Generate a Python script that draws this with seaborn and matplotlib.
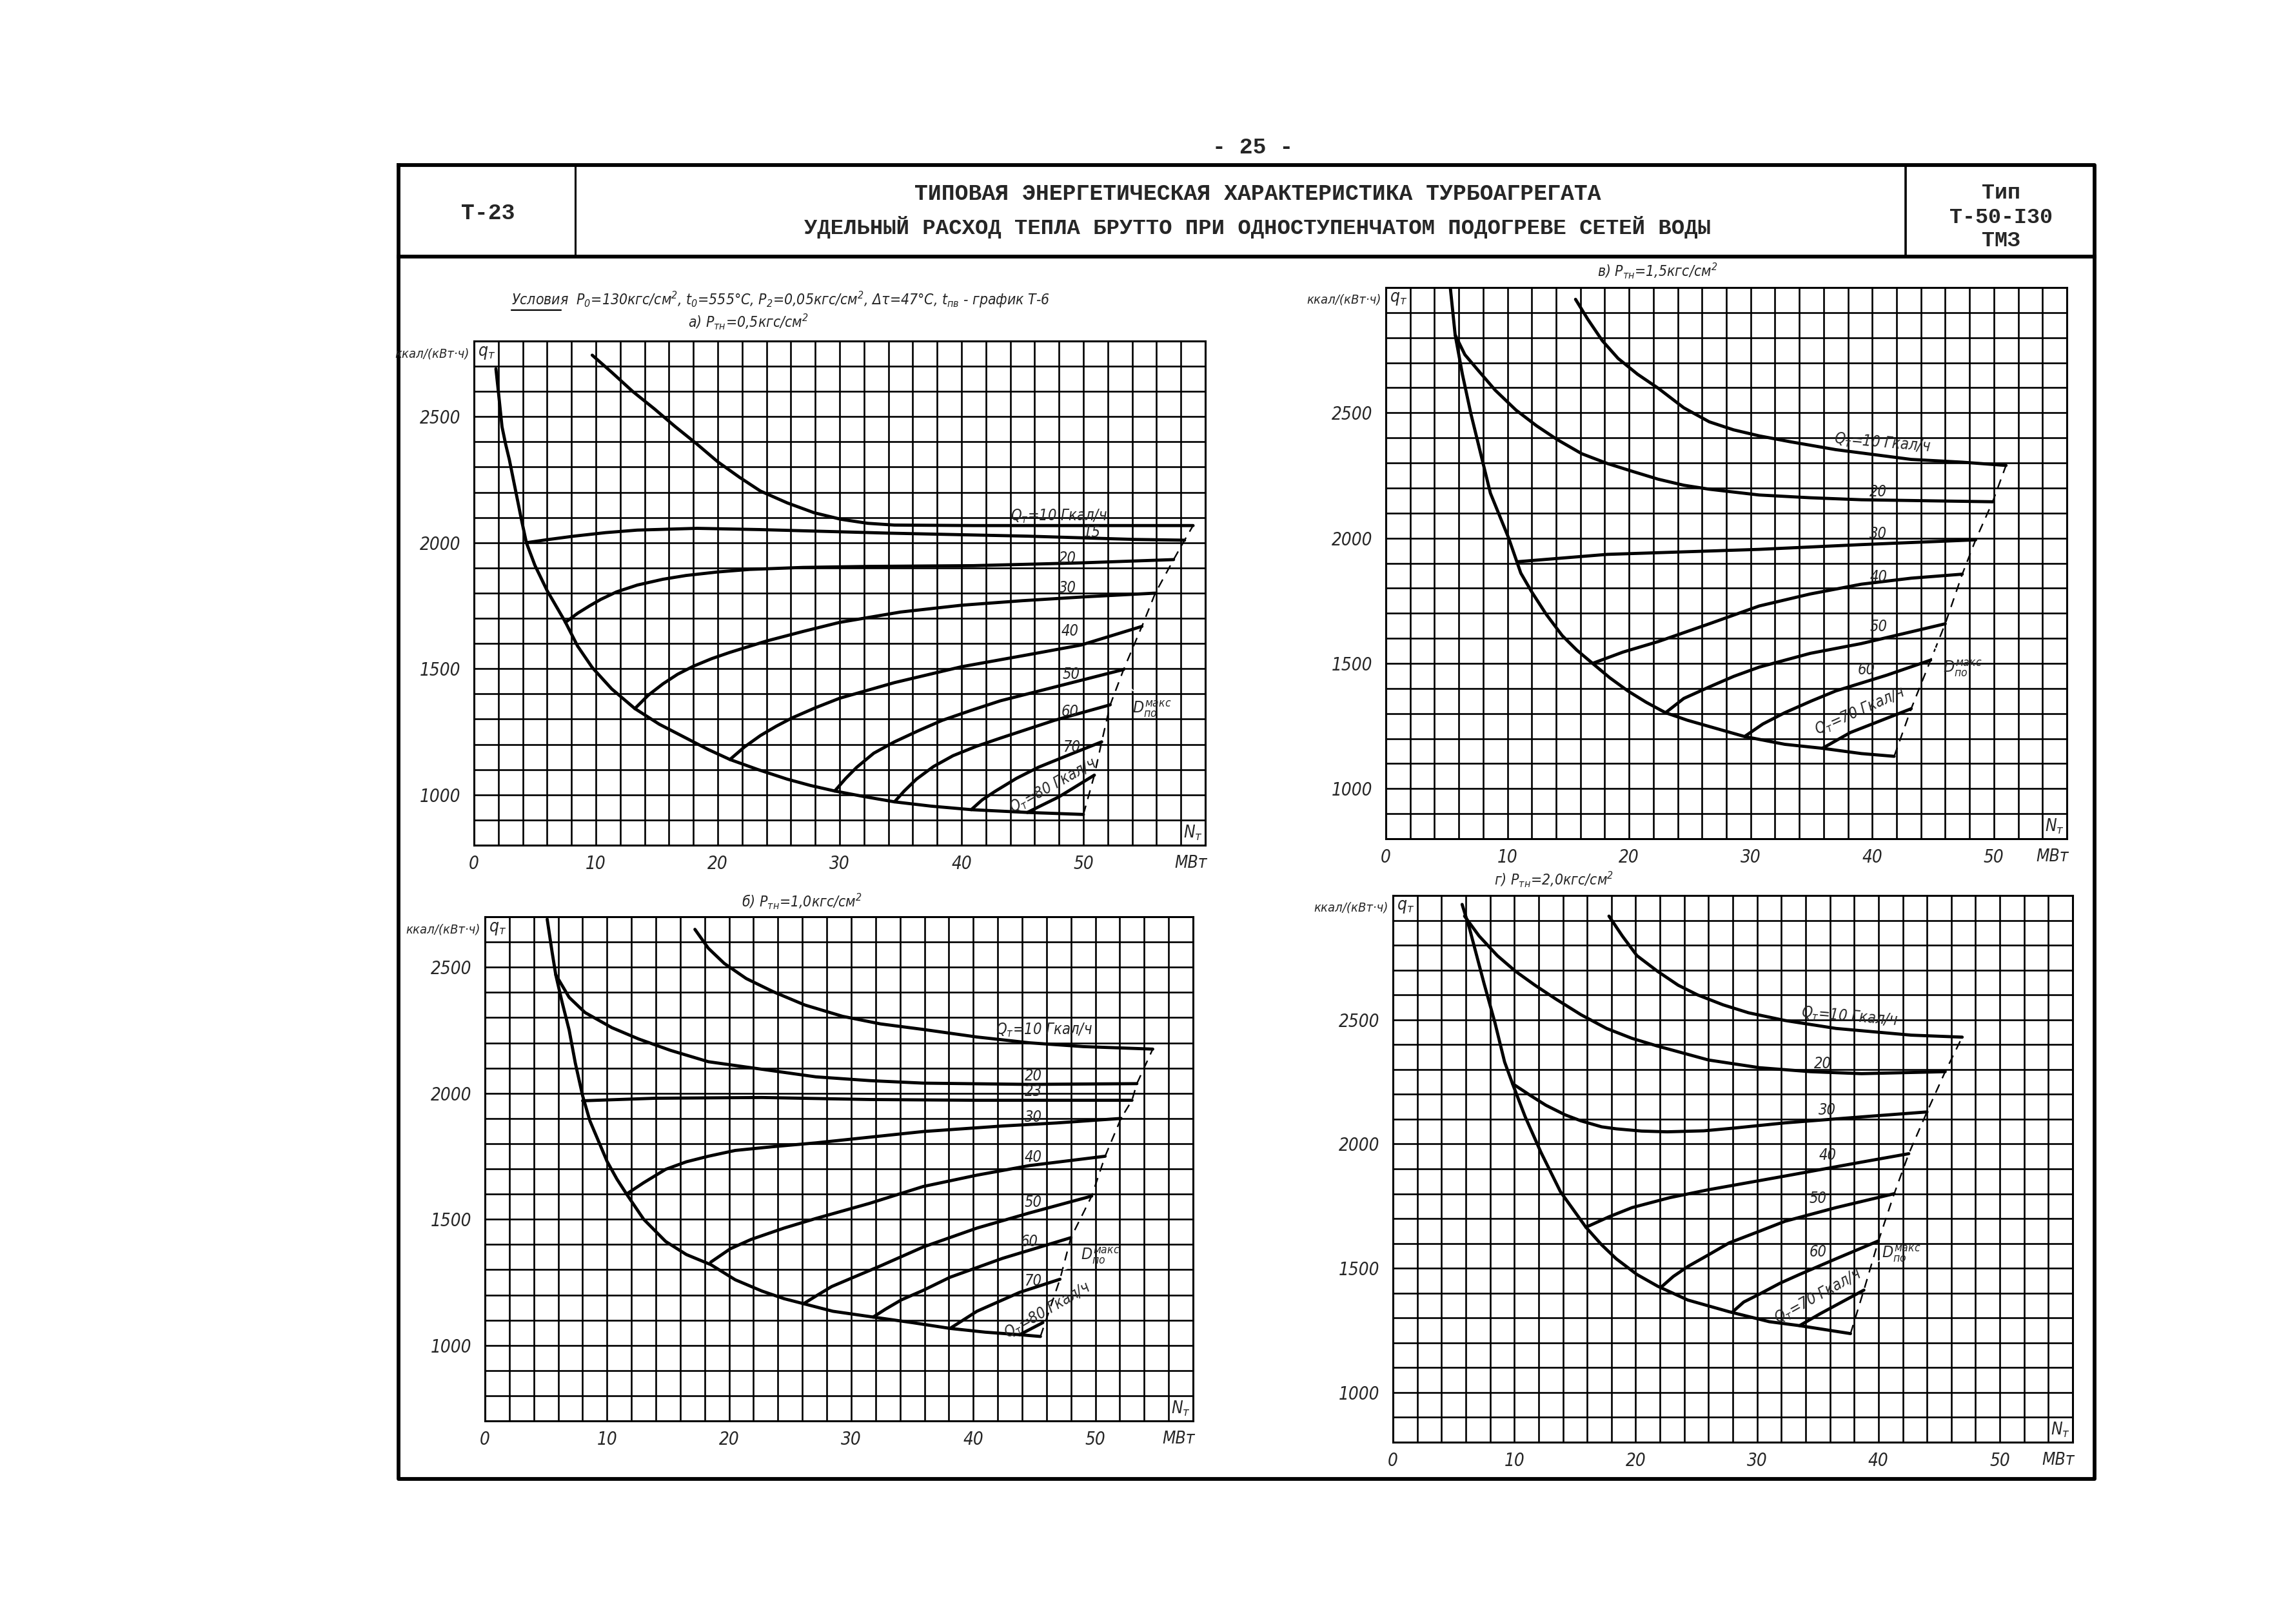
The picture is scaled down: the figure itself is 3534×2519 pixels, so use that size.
import numpy as np
import matplotlib
matplotlib.use("Agg")
import matplotlib.pyplot as plt
import seaborn as sns

# ---------------- data (N_T in MW, q_T in kcal/kWh) ----------------
# a) P_тн = 0,5 кгс/см2
a_env_n = [1.8, 2.0, 2.3, 2.6, 2.9, 3.4, 3.9, 4.3, 5.0, 6.0, 7.5, 8.5, 9.7, 11.3, 13.2, 15.2, 17.4,
           19.2, 21.0, 23.3, 25.7, 27.6, 29.6, 32.0, 34.5, 37.5, 40.8, 45.4, 50.0]
a_env_q = [2690, 2600, 2460, 2390, 2330, 2210, 2090, 2000, 1910, 1810, 1685, 1590, 1505, 1420, 1342,
           1280, 1225, 1180, 1140, 1100, 1062, 1037, 1015, 993, 972, 955, 941, 930, 922]
a_q10_n = [9.7, 11.3, 13.0, 14.8, 16.5, 18.3, 20.0, 21.8, 23.5, 25.7, 27.9, 30.1, 32.3, 34.5, 41.0, 49.8, 59.0]
a_q10_q = [2744, 2676, 2601, 2531, 2461, 2391, 2321, 2259, 2205, 2158, 2119, 2093, 2077, 2070, 2068, 2068, 2068]
a_q15_n = [4.3, 6.0, 8.2, 10.8, 13.4, 18.3, 23.5, 34.0, 45.4, 54.2, 58.3]
a_q15_q = [2000, 2012, 2026, 2040, 2050, 2057, 2052, 2038, 2026, 2013, 2010]
a_q20_n = [7.5, 8.5, 9.5, 10.4, 11.7, 13.4, 15.5, 17.4, 20.0, 22.6, 27.0, 32.3, 41.0, 49.8, 57.4]
a_q20_q = [1684, 1720, 1750, 1775, 1805, 1832, 1855, 1870, 1884, 1894, 1902, 1906, 1909, 1920, 1933]
a_q30_n = [13.2, 14.3, 15.5, 16.7, 18.0, 19.5, 21.0, 24.0, 27.0, 30.0, 35.0, 40.0, 45.0, 50.0, 55.9]
a_q30_q = [1342, 1395, 1440, 1478, 1510, 1540, 1565, 1610, 1648, 1684, 1725, 1752, 1770, 1785, 1800]
a_q40_n = [21.0, 22.2, 23.5, 24.8, 26.1, 28.0, 30.0, 34.5, 40.0, 45.4, 49.8, 54.8]
a_q40_q = [1140, 1190, 1235, 1272, 1305, 1345, 1383, 1445, 1508, 1555, 1594, 1668]
a_q50_n = [29.6, 30.5, 31.4, 32.8, 34.5, 36.5, 38.4, 40.8, 43.2, 47.6, 53.3]
a_q50_q = [1015, 1065, 1109, 1165, 1210, 1255, 1295, 1335, 1373, 1427, 1497]
a_q60_n = [34.5, 35.3, 36.3, 37.7, 39.3, 41.2, 43.2, 47.6, 52.2]
a_q60_q = [972, 1015, 1062, 1112, 1155, 1192, 1225, 1295, 1357]
a_q70_n = [40.8, 41.7, 42.8, 44.5, 46.3, 48.9, 51.5]
a_q70_q = [941, 980, 1015, 1065, 1109, 1160, 1210]
a_q80_n = [45.4, 48.0, 50.9]
a_q80_q = [930, 992, 1078]
a_dmax_n = [50.0, 50.9, 51.5, 52.2, 53.3, 54.8, 55.9, 57.4, 58.3, 59.0]
a_dmax_q = [922, 1078, 1210, 1357, 1497, 1668, 1800, 1933, 2010, 2068]

# б) P_тн = 1,0 кгс/см2
b_env_n = [5.1, 5.5, 5.8, 6.3, 6.9, 7.4, 8.0, 8.6, 9.3, 10.0, 10.8, 11.6, 13.0, 14.8, 16.5, 18.5,
           20.5, 22.7, 24.5, 26.1, 28.5, 31.8, 35.0, 38.1, 41.0, 43.8, 45.5]
b_env_q = [2690, 2560, 2470, 2365, 2250, 2120, 1990, 1890, 1810, 1730, 1660, 1600, 1500, 1412, 1360,
           1320, 1260, 1215, 1185, 1165, 1135, 1112, 1090, 1067, 1052, 1042, 1035]
b_q10_n = [17.2, 18.3, 19.6, 21.4, 23.6, 26.2, 29.3, 32.4, 35.9, 40.3, 44.6, 49.0, 54.7]
b_q10_q = [2650, 2575, 2515, 2455, 2403, 2350, 2305, 2275, 2253, 2223, 2200, 2185, 2175]
b_q20_n = [5.8, 6.9, 8.2, 10.4, 12.6, 15.2, 18.3, 22.7, 27.1, 31.5, 35.9, 44.6, 53.4]
b_q20_q = [2470, 2380, 2320, 2260, 2215, 2170, 2125, 2095, 2065, 2050, 2040, 2035, 2038]
b_q23_n = [8.0, 13.9, 22.7, 31.5, 40.3, 53.0]
b_q23_q = [1970, 1980, 1983, 1975, 1972, 1972]
b_q30_n = [11.6, 13.0, 14.8, 16.5, 18.3, 20.5, 23.6, 27.1, 35.9, 42.4, 46.8, 52.1]
b_q30_q = [1600, 1645, 1698, 1728, 1750, 1773, 1788, 1803, 1848, 1870, 1882, 1900]
b_q40_n = [18.5, 20.1, 21.8, 24.5, 27.1, 31.5, 35.9, 40.3, 44.6, 50.8]
b_q40_q = [1330, 1383, 1420, 1465, 1503, 1563, 1630, 1675, 1713, 1750]
b_q50_n = [26.1, 27.1, 28.4, 30.2, 32.4, 35.9, 40.3, 44.6, 49.7]
b_q50_q = [1165, 1195, 1233, 1270, 1315, 1390, 1465, 1525, 1592]
b_q60_n = [31.8, 32.8, 34.1, 35.9, 38.1, 42.4, 48.0]
b_q60_q = [1112, 1143, 1180, 1218, 1270, 1345, 1427]
b_q70_n = [38.1, 40.3, 43.8, 47.1]
b_q70_q = [1067, 1135, 1210, 1262]
b_q80_n = [43.8, 45.7]
b_q80_q = [1042, 1090]
b_dmax_n = [45.5, 47.1, 48.0, 49.7, 50.8, 52.1, 53.0, 53.4, 54.7]
b_dmax_q = [1035, 1262, 1427, 1592, 1750, 1900, 1972, 2038, 2175]

# в) P_тн = 1,5 кгс/см2
v_env_n = [5.3, 5.7, 6.3, 7.0, 7.8, 8.6, 10.1, 11.1, 12.0, 13.2, 14.5, 15.7, 17.0, 18.4, 19.9, 21.4,
           23.0, 24.8, 26.6, 29.5, 32.8, 35.9, 39.1, 41.8]
v_env_q = [3000, 2811, 2653, 2495, 2337, 2179, 2000, 1860, 1785, 1695, 1611, 1553, 1500, 1443, 1390,
           1345, 1303, 1273, 1248, 1208, 1177, 1161, 1140, 1129]
v_q10_n = [15.6, 16.6, 17.8, 19.1, 20.7, 22.4, 24.5, 26.6, 28.6, 30.7, 33.2, 37.0, 43.2, 47.4, 51.0]
v_q10_q = [2953, 2874, 2788, 2717, 2654, 2598, 2520, 2464, 2432, 2408, 2385, 2353, 2314, 2303, 2290]
v_q20_n = [5.7, 6.5, 7.6, 9.0, 10.7, 12.4, 14.1, 16.1, 18.2, 20.3, 22.4, 24.5, 26.6, 30.7, 34.9, 39.1, 49.9]
v_q20_q = [2811, 2732, 2669, 2590, 2511, 2448, 2393, 2337, 2298, 2266, 2235, 2211, 2195, 2172, 2161, 2153, 2145]
v_q30_n = [10.9, 18.2, 30.7, 39.1, 48.5]
v_q30_q = [1906, 1935, 1955, 1974, 1993]
v_q40_n = [17.0, 19.5, 22.4, 26.6, 30.7, 34.9, 39.1, 43.2, 47.4]
v_q40_q = [1500, 1545, 1587, 1658, 1729, 1777, 1816, 1840, 1856]
v_q50_n = [23.0, 24.5, 26.6, 28.6, 30.7, 34.9, 39.1, 46.0]
v_q50_q = [1303, 1360, 1406, 1448, 1485, 1540, 1579, 1658]
v_q60_n = [29.5, 31.0, 32.8, 35.0, 37.0, 41.2, 44.8]
v_q60_q = [1208, 1258, 1303, 1350, 1390, 1453, 1513]
v_q70_n = [35.9, 38.2, 43.2]
v_q70_q = [1161, 1224, 1319]
v_dmax_n = [41.8, 43.2, 44.8, 46.0, 47.4, 48.5, 49.9, 51.0]
v_dmax_q = [1129, 1319, 1513, 1658, 1856, 1993, 2145, 2290]

# г) P_тн = 2,0 кгс/см2
g_env_n = [5.7, 6.3, 6.9, 7.5, 8.4, 9.2, 9.85, 10.9, 12.2, 13.8, 15.9, 17.2, 18.4, 20.1, 21.8, 24.3,
           27.7, 31.0, 33.5, 37.7]
g_env_q = [2964, 2869, 2758, 2647, 2489, 2330, 2243, 2109, 1966, 1808, 1665, 1594, 1538, 1475, 1428,
           1372, 1325, 1285, 1269, 1237]
g_q10_n = [17.8, 18.9, 20.1, 21.8, 23.5, 25.1, 27.2, 29.3, 32.3, 36.5, 42.7, 46.9]
g_q10_q = [2917, 2837, 2758, 2695, 2639, 2600, 2560, 2528, 2497, 2465, 2438, 2430]
g_q20_n = [5.9, 7.1, 8.6, 10.1, 11.7, 13.4, 15.5, 17.6, 19.7, 21.8, 26.0, 30.2, 34.4, 38.6, 45.5]
g_q20_q = [2917, 2837, 2758, 2695, 2639, 2584, 2520, 2465, 2425, 2394, 2338, 2307, 2291, 2283, 2291]
g_q30_n = [9.85, 11.3, 12.6, 14.2, 15.5, 17.2, 18.4, 20.5, 22.6, 25.6, 28.1, 32.3, 38.6, 44.0]
g_q30_q = [2243, 2196, 2156, 2117, 2093, 2069, 2061, 2052, 2049, 2053, 2064, 2085, 2109, 2129]
g_q40_n = [15.9, 17.8, 19.7, 22.8, 26.0, 32.3, 38.6, 42.5]
g_q40_q = [1665, 1707, 1744, 1784, 1816, 1871, 1927, 1961]
g_q50_n = [22.1, 23.1, 24.3, 26.0, 27.7, 30.2, 32.3, 36.5, 41.3]
g_q50_q = [1424, 1467, 1507, 1554, 1602, 1649, 1689, 1744, 1800]
g_q60_n = [28.0, 28.9, 30.2, 31.9, 33.5, 36.5, 40.0]
g_q60_q = [1325, 1364, 1396, 1440, 1475, 1538, 1610]
g_q70_n = [33.5, 35.2, 38.8]
g_q70_q = [1269, 1317, 1412]
g_dmax_n = [37.7, 38.8, 40.0, 41.3, 42.5, 44.0, 45.5, 46.9]
g_dmax_q = [1237, 1412, 1610, 1800, 1961, 2129, 2291, 2430]

x_labels = [0, 10, 20, 30, 40, 50]
y_labels = [1000, 1500, 2000, 2500]

# ---------------- style ----------------
sns.set_style("white")
plt.rcParams["font.family"] = ["DejaVu Sans"]
plt.rcParams["font.style"] = "italic"
plt.rcParams["font.stretch"] = "condensed"
plt.rcParams["mathtext.fontset"] = "custom"
plt.rcParams["mathtext.it"] = "DejaVu Sans:italic:stretch=condensed"
plt.rcParams["mathtext.rm"] = "DejaVu Sans:stretch=condensed"

W, H = 3534, 2519
fig = plt.figure(figsize=(W / 100, H / 100), dpi=100)

# background layer in pixel coordinates: sheet frame and header
bg = fig.add_axes([0, 0, 1, 1], zorder=0)
bg.set_xlim(0, W)
bg.set_ylim(H, 0)
bg.axis("off")
frame_kw = dict(color="black", lw=4.2, solid_capstyle="projecting")
bg.plot([618, 3248, 3248, 618, 618], [256, 256, 2294, 2294, 256], **frame_kw)
bg.plot([618, 3248], [398, 398], **frame_kw)
bg.plot([892, 892], [256, 398], color="black", lw=2.2)
bg.plot([2955, 2955], [256, 398], color="black", lw=2.6)

mono = dict(family=["Liberation Mono", "DejaVu Sans Mono"], weight="bold",
            style="normal", stretch="normal", ha="center", va="center")
bg.text(1943, 228, "- 25 -", fontsize=25, **mono)
bg.text(757, 330, "Т-23", fontsize=25, **mono)
bg.text(1950, 300, "ТИПОВАЯ ЭНЕРГЕТИЧЕСКАЯ ХАРАКТЕРИСТИКА ТУРБОАГРЕГАТА", fontsize=25, **mono)
bg.text(1950, 352, "УДЕЛЬНЫЙ РАСХОД ТЕПЛА БРУТТО ПРИ ОДНОСТУПЕНЧАТОМ ПОДОГРЕВЕ СЕТЕЙ ВОДЫ",
        fontsize=24.5, **mono)
bg.text(3103, 300, "Тип", fontsize=24, **mono)
bg.text(3103, 338, "Т-50-I30", fontsize=24, **mono)
bg.text(3103, 373, "ТМЗ", fontsize=24, **mono)

bg.text(793, 465, r"Условия  $P_0$=130кгс/см$^2$, $t_0$=555°C, $P_2$=0,05кгс/см$^2$, "
        r"Δτ=47°C, $t_{пв}$ - график Т-6", fontsize=16.5, ha="left", va="center")
bg.plot([793, 870], [481, 481], color="black", lw=1.6)
bg.text(1160, 499, r"а) $P_{тн}$=0,5кгс/см$^2$", fontsize=16.5, ha="center", va="center")
bg.text(2570, 420, r"в) $P_{тн}$=1,5кгс/см$^2$", fontsize=16.5, ha="center", va="center")
bg.text(1243, 1398, r"б) $P_{тн}$=1,0кгс/см$^2$", fontsize=16.5, ha="center", va="center")
bg.text(2410, 1364, r"г) $P_{тн}$=2,0кгс/см$^2$", fontsize=16.5, ha="center", va="center")


def panel(l, t, r, b, xmax, ymin, ymax):
    ax = fig.add_axes([l / W, 1 - b / H, (r - l) / W, (b - t) / H], zorder=2)
    ax.set_xlim(0, xmax)
    ax.set_ylim(ymin, ymax)
    ax.set_xticks(x_labels)
    ax.set_xticks(np.arange(0, xmax + 0.1, 2), minor=True)
    ax.set_yticks(y_labels)
    ax.set_yticks(np.arange(ymin, ymax + 1, 100), minor=True)
    ax.grid(which="both", color="black", lw=1.9)
    ax.tick_params(which="both", length=0)
    ax.tick_params(axis="y", pad=15, labelsize=20)
    ax.tick_params(axis="x", pad=11, labelsize=20)
    for s in ax.spines.values():
        s.set_linewidth(2.2)
        s.set_color("black")
    ax.set_xlabel("")
    ax.set_ylabel("")
    ax.text(-0.4, ymax - 50, "ккал/(кВт·ч)", fontsize=14.5, ha="right", va="center")
    ax.text(0.3, ymax - 45, r"$q_т$", fontsize=19, ha="left", va="center")
    ax.text(xmax - 1, ymin + 50, r"$N_т$", fontsize=19, ha="center", va="center")
    ax.annotate("МВт", xy=(xmax - 1.2, 0), xycoords=("data", "axes fraction"),
                xytext=(0, -11), textcoords="offset points", fontsize=19,
                ha="center", va="top")
    return ax


def curves(ax, lines, dmax_n, dmax_q):
    for n, q in lines:
        sns.lineplot(x=n, y=q, ax=ax, sort=False, estimator=None, color="black", lw=3.5)
    sns.lineplot(x=dmax_n, y=dmax_q, ax=ax, sort=False, estimator=None, color="black",
                 lw=1.7, linestyle=(0, (6, 4.5)))


def labels(ax, items, fs=17):
    for txt, x, y, rot in items:
        ax.text(x, y, txt, fontsize=fs, ha="center", va="center", rotation=rot,
                rotation_mode="anchor")


leader = dict(arrowstyle="-", lw=1.4, shrinkA=10, shrinkB=0)

# ---------------- а) ----------------
ax_a = panel(735, 529, 1869, 1311, 60, 800, 2800)
curves(ax_a, [(a_env_n, a_env_q), (a_q10_n, a_q10_q), (a_q15_n, a_q15_q), (a_q20_n, a_q20_q),
              (a_q30_n, a_q30_q), (a_q40_n, a_q40_q), (a_q50_n, a_q50_q), (a_q60_n, a_q60_q),
              (a_q70_n, a_q70_q), (a_q80_n, a_q80_q)], a_dmax_n, a_dmax_q)
labels(ax_a, [(r"$Q_т$=10 Гкал/ч", 48.0, 2104, 0), ("15", 50.7, 2040, 0), ("20", 48.7, 1937, 0),
              ("30", 48.7, 1820, 0), ("40", 48.9, 1649, 0), ("50", 49.0, 1478, 0),
              ("60", 48.9, 1330, 0), ("70", 49.0, 1190, 0), (r"$Q_т$=80 Гкал/ч", 47.5, 1036, 29)])
ax_a.annotate(r"$D_{по}^{макс}$", xy=(53.1, 1460), xytext=(55.6, 1340), fontsize=18,
              ha="center", va="center", arrowprops=leader)

# ---------------- в) ----------------
ax_v = panel(2149, 446, 3205, 1301, 56, 800, 3000)
curves(ax_v, [(v_env_n, v_env_q), (v_q10_n, v_q10_q), (v_q20_n, v_q20_q), (v_q30_n, v_q30_q),
              (v_q40_n, v_q40_q), (v_q50_n, v_q50_q), (v_q60_n, v_q60_q), (v_q70_n, v_q70_q)],
       v_dmax_n, v_dmax_q)
labels(ax_v, [(r"$Q_т$=10 Гкал/ч", 40.8, 2378, -5), ("20", 40.5, 2184, 0), ("30", 40.5, 2016, 0),
              ("40", 40.5, 1844, 0), ("50", 40.5, 1647, 0), ("60", 39.5, 1473, 0),
              (r"$Q_т$=70 Гкал/ч", 39.0, 1308, 24)])
ax_v.annotate(r"$D_{по}^{макс}$", xy=(45.1, 1564), xytext=(47.4, 1480), fontsize=18,
              ha="center", va="center", arrowprops=leader)

# ---------------- б) ----------------
ax_b = panel(752, 1422, 1850, 2204, 58, 700, 2700)
curves(ax_b, [(b_env_n, b_env_q), (b_q10_n, b_q10_q), (b_q20_n, b_q20_q), (b_q23_n, b_q23_q),
              (b_q30_n, b_q30_q), (b_q40_n, b_q40_q), (b_q50_n, b_q50_q), (b_q60_n, b_q60_q),
              (b_q70_n, b_q70_q), (b_q80_n, b_q80_q)], b_dmax_n, b_dmax_q)
labels(ax_b, [(r"$Q_т$=10 Гкал/ч", 45.8, 2251, 0), ("20", 44.9, 2069, 0), ("23", 44.9, 2008, 0),
              ("30", 44.9, 1904, 0), ("40", 44.9, 1746, 0), ("50", 44.9, 1566, 0),
              ("60", 44.6, 1412, 0), ("70", 44.9, 1254, 0), (r"$Q_т$=80 Гкал/ч", 46.1, 1138, 30)])
ax_b.annotate(r"$D_{по}^{макс}$", xy=(47.4, 1300), xytext=(50.4, 1355), fontsize=18,
              ha="center", va="center", arrowprops=leader)

# ---------------- г) ----------------
ax_g = panel(2160, 1389, 3214, 2237, 56, 800, 3000)
curves(ax_g, [(g_env_n, g_env_q), (g_q10_n, g_q10_q), (g_q20_n, g_q20_q), (g_q30_n, g_q30_q),
              (g_q40_n, g_q40_q), (g_q50_n, g_q50_q), (g_q60_n, g_q60_q), (g_q70_n, g_q70_q)],
       g_dmax_n, g_dmax_q)
labels(ax_g, [(r"$Q_т$=10 Гкал/ч", 37.6, 2511, -5), ("20", 35.4, 2322, 0), ("30", 35.8, 2137, 0),
              ("40", 35.8, 1954, 0), ("50", 35.0, 1780, 0), ("60", 35.0, 1566, 0),
              (r"$Q_т$=70 Гкал/ч", 35.0, 1386, 29)])
ax_g.annotate(r"$D_{по}^{макс}$", xy=(39.7, 1523), xytext=(41.9, 1560), fontsize=18,
              ha="center", va="center", arrowprops=leader)

fig.savefig("out.png", dpi=100, facecolor="white")
